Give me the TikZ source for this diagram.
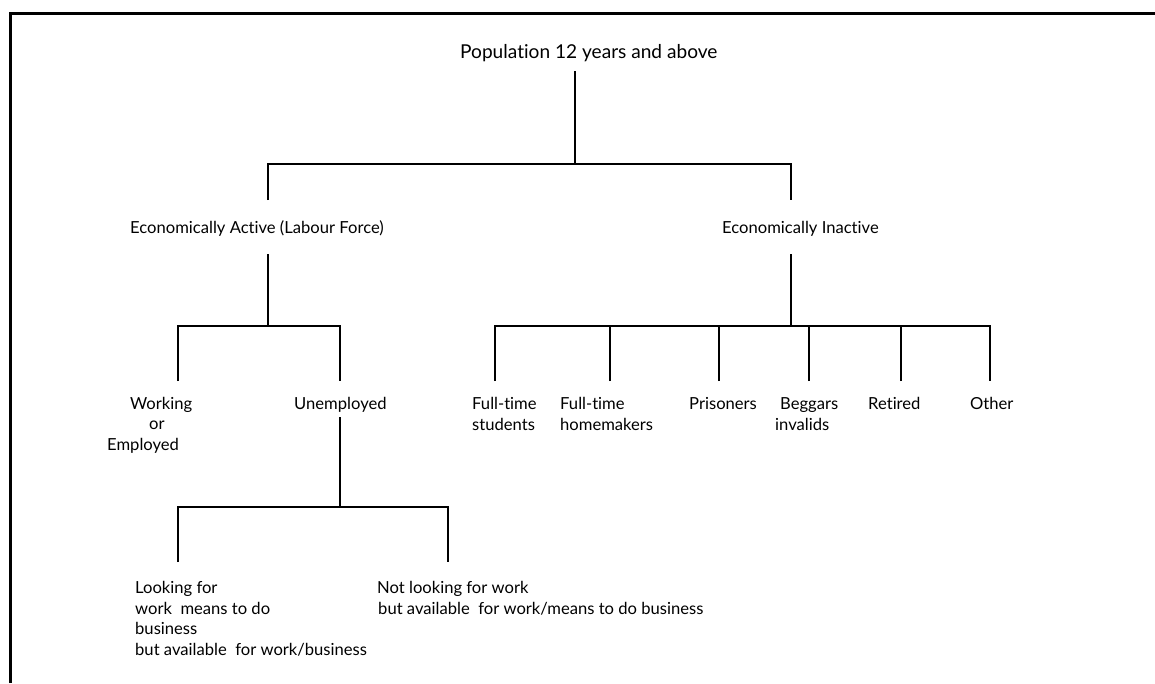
\documentclass[tikz,border=0pt]{standalone}
\usepackage{fontspec}
\setmainfont{Lato}[Ligatures={NoCommon}]
\begin{document}
\begin{tikzpicture}[x=1pt,y=-1pt,
  lbl/.style={inner sep=0pt,anchor=base west,align=left,font=\fontsize{16.6}{20.5}\selectfont},
  toplbl/.style={lbl,font=\fontsize{19.1}{23}\selectfont},
  conn/.style={line width=1.6pt},
  frame/.style={line width=3pt}]
\useasboundingbox (0,0) rectangle (1155,683);
% frame
\draw[frame] (10,683) -- (10,13) -- (1160,13);
% texts (anchor = baseline of the last line)
\node[toplbl] (pop) at (460,58) {Population 12 years and above};
\node[lbl] (ea) at (130,233) {Economically Active (Labour Force)};
\node[lbl] (ei) at (722,233) {Economically Inactive};
\node[lbl] (work) at (107,450) {\hspace*{23pt}Working\\\hspace*{42pt}or\\Employed};
\node[lbl] (unemp) at (294,409) {Unemployed};
\node[lbl] (fts) at (472,430) {Full-time\\students};
\node[lbl] (fth) at (560,430) {Full-time\\homemakers};
\node[lbl] (pris) at (689,409) {Prisoners};
\node[lbl] (beg) at (775,430) {\hspace*{5pt}Beggars\\invalids};
\node[lbl] (ret) at (868,409) {Retired};
\node[lbl] (oth) at (970,409) {Other};
\node[lbl] (look) at (135,655) {Looking for\\work\ \ means to do\\business\\but available\ \ for work/business};
\node[lbl] (notlook) at (377,614) {Not looking for work\\\hspace*{1pt}but available\ \ for work/means to do business};
% connector end points
\coordinate (popB) at (575,71);
\coordinate (J0) at (575,164);
\coordinate (eaT) at (268,200);
\coordinate (eiT) at (791,200);
\coordinate (eaB) at (268,254);
\coordinate (J1) at (268,326);
\coordinate (workT) at (178,381);
\coordinate (unempT) at (340,381);
\coordinate (unempB) at (340,417);
\coordinate (J2) at (340,507);
\coordinate (lookT) at (178,562);
\coordinate (notlookT) at (448,562);
\coordinate (eiB) at (791,254);
\coordinate (J3) at (791,326);
\coordinate (ftsT) at (495,381);
\coordinate (fthT) at (610,381);
\coordinate (prisT) at (719,381);
\coordinate (begT) at (809,381);
\coordinate (retT) at (901,381);
\coordinate (othT) at (990,381);
% connectors
\draw[conn] (popB) -- (J0);
\draw[conn] (eaT) |- (J0) -| (eiT);
\draw[conn] (eaB) -- (J1);
\draw[conn] (workT) |- (J1) -| (unempT);
\draw[conn] (unempB) -- (J2);
\draw[conn] (lookT) |- (J2) -| (notlookT);
\draw[conn] (eiB) -- (J3);
\draw[conn] (ftsT) |- (J3) -| (othT);
\foreach \t in {fthT,prisT,begT,retT}
  \draw[conn] (\t) -- (\t |- J3);
\end{tikzpicture}
\end{document}
